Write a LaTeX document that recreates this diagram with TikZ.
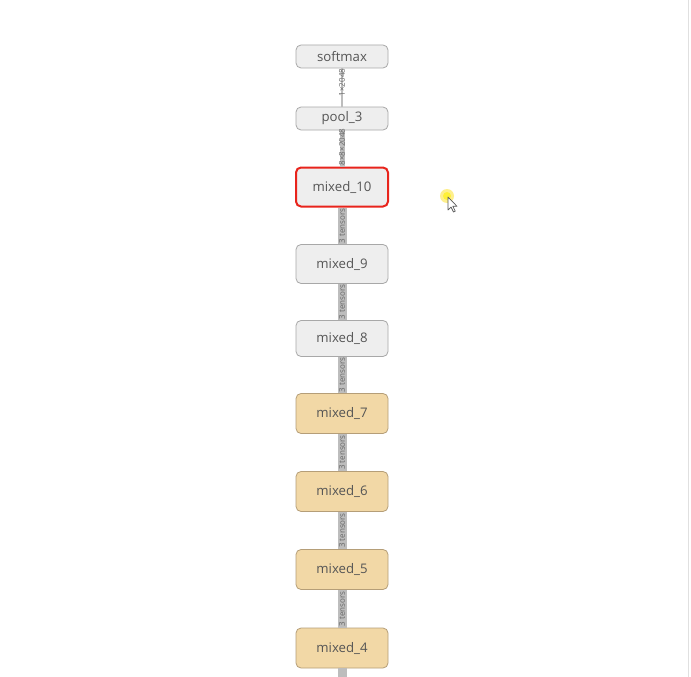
\documentclass[tikz,border=0pt]{standalone}
\usepackage{fontspec}
\setmainfont{Open Sans}
\definecolor{opgray}{HTML}{EEEEEE}
\definecolor{opline}{HTML}{A8A8A8}
\definecolor{optan}{HTML}{F2D8A6}
\definecolor{optanline}{HTML}{B59E78}
\definecolor{opred}{HTML}{E8241C}
\definecolor{optext}{HTML}{555555}
\definecolor{edgegray}{HTML}{BDBDBD}
\tikzset{
  opbox/.style={draw=opline, fill=opgray, rounded corners=5pt, line width=0.8pt,
    minimum width=92pt, text=optext, font=\fontsize{13.2}{15}\selectfont, inner sep=0pt},
  metabox/.style={opbox, draw=optanline, fill=optan},
  pickbox/.style={opbox, draw=opred, line width=2pt},
  tensoredge/.style={draw=edgegray, line width=9pt},
  edgelabel/.style={font=\fontsize{8}{9}\selectfont, text=black!60, rotate=90, inner sep=0pt}
}
\begin{document}
\begin{tikzpicture}[x=1pt,y=-1pt]
    \useasboundingbox (0,0) rectangle (691,677);
    \fill[white] (0,0) rectangle (691,677);
    \draw[black!12, line width=1pt] (688,0) -- (688,677);

    % Nodos del grafo
    \node[opbox, minimum height=23pt] (softmax) at (342,56.5) {softmax};
    \node[opbox, minimum height=23pt] (pool3) at (342,118.5) {pool\_3};
    \node[pickbox, minimum height=39pt] (mixed10) at (342,187) {mixed\_10};
    \node[opbox, minimum height=39pt] (mixed9) at (342,264) {mixed\_9};
    \node[opbox, minimum height=36pt] (mixed8) at (342,338.5) {mixed\_8};
    \node[metabox, minimum height=40pt] (mixed7) at (342,413.5) {mixed\_7};
    \node[metabox, minimum height=40pt] (mixed6) at (342,491.5) {mixed\_6};
    \node[metabox, minimum height=40pt] (mixed5) at (342,569.5) {mixed\_5};
    \node[metabox, minimum height=40pt] (mixed4) at (342,648) {mixed\_4};
    \coordinate (below) at (342,677);

    % Aristas (tensores)
    \draw[edgegray, line width=1.5pt] (softmax.south) -- (pool3.north)
        node[midway, edgelabel, xshift=5pt] {1×2048};
    \draw[tensoredge, line width=5pt] (pool3.south) -- (mixed10.north)
        node[midway, edgelabel, xshift=1.5pt] {8×8×2048};
    \draw[tensoredge] (mixed10.south) -- (mixed9.north)
        node[midway, edgelabel] {3 tensors};
    \draw[tensoredge] (mixed9.south) -- (mixed8.north)
        node[midway, edgelabel] {3 tensors};
    \draw[tensoredge] (mixed8.south) -- (mixed7.north)
        node[midway, edgelabel] {3 tensors};
    \draw[tensoredge] (mixed7.south) -- (mixed6.north)
        node[midway, edgelabel] {3 tensors};
    \draw[tensoredge] (mixed6.south) -- (mixed5.north)
        node[midway, edgelabel] {3 tensors};
    \draw[tensoredge] (mixed5.south) -- (mixed4.north)
        node[midway, edgelabel] {3 tensors};
    \draw[tensoredge] (mixed4.south) -- (below);

    % Cursor
    \fill[yellow!80!orange, opacity=0.45] (447,196) circle (7);
    \fill[yellow, opacity=0.6] (447,196) circle (4);
    \begin{scope}[shift={(448,197)}]
        \draw[black!65, fill=white, line width=0.7pt, line join=round]
            (0,0) -- (0,13) -- (3,10) -- (5.5,15) -- (7.3,14.2) -- (4.8,9.3) -- (9,9.3) -- cycle;
    \end{scope}
\end{tikzpicture}
\end{document}
